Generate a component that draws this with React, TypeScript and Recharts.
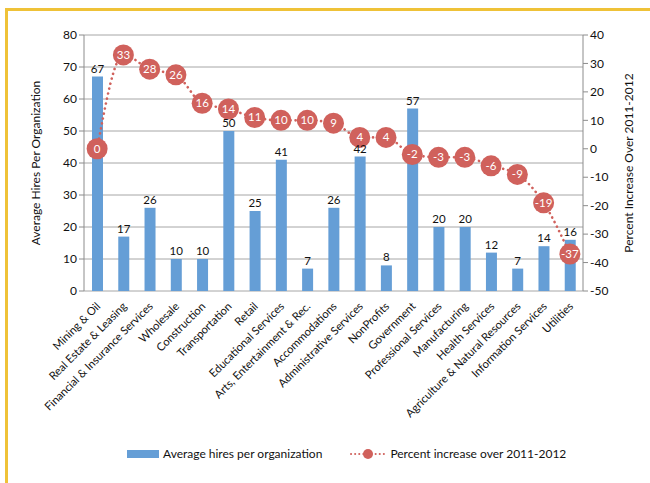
import React from 'react';
import {
    Bar,
    CartesianGrid,
    ComposedChart,
    LabelList,
    Line,
    XAxis,
    YAxis,
} from 'recharts';

const industries = [
    'Mining & Oil',
    'Real Estate & Leasing',
    'Financial & Insurance Services',
    'Wholesale',
    'Construction',
    'Transportation',
    'Retail',
    'Educational Services',
    'Arts, Entertainment & Rec.',
    'Accommodations',
    'Administrative Services',
    'NonProfits',
    'Government',
    'Professional Services',
    'Manufacturing',
    'Health Services',
    'Agriculture & Natural Resources',
    'Information Services',
    'Utilities',
];
const avgHires = [67, 17, 26, 10, 10, 50, 25, 41, 7, 26, 42, 8, 57, 20, 20, 12, 7, 14, 16];
const pctIncrease = [0, 33, 28, 26, 16, 14, 11, 10, 10, 9, 4, 4, -2, -3, -3, -6, -9, -19, -37];
const leftTicks = [0, 10, 20, 30, 40, 50, 60, 70, 80];
const rightTicks = [-50, -40, -30, -20, -10, 0, 10, 20, 30, 40];
const edgeTicks = industries.map((_, i) => i).concat([industries.length]);

const data = industries.map((name, i) => ({ name, hires: avgHires[i], pct: pctIncrease[i] }));

const BLUE = '#659ED6';
const RED = '#D0615C';
const FONT = 'Lato, "Open Sans", sans-serif';

const CategoryTick = (props: any) => {
    const { x, y, payload } = props;
    return (
        <text
            x={x + 4}
            y={y + 8}
            transform={`rotate(-45 ${x + 4} ${y + 8})`}
            textAnchor="end"
            fontSize={11.2}
            fill="#111"
            fontFamily={FONT}
        >
            {payload.value}
        </text>
    );
};

const PctDot = (props: any) => {
    const { cx, cy, value, index } = props;
    return (
        <g key={`dot-${index}`}>
            <circle cx={cx} cy={cy} r={10.5} fill={RED} />
            <text x={cx} y={cy + 4} textAnchor="middle" fontSize={11.5} fill="#fff" fontFamily={FONT}>
                {value}
            </text>
        </g>
    );
};

export default function App() {
    return (
        <div style={{ position: 'absolute', left: 0, top: 0, width: 650, height: 483, background: '#fff', overflow: 'hidden', fontFamily: FONT }}>
            {/* yellow frame, only top and left edges visible */}
            <div style={{ position: 'absolute', left: 5, top: 8, width: 700, height: 520, borderTop: '3px solid #EFC238', borderLeft: '3px solid #EFC238' }} />
            <ComposedChart
                width={650}
                height={483}
                data={data}
                margin={{ top: 35, right: 17, left: 34, bottom: 62 }}
                style={{ position: 'absolute', left: 0, top: 0 }}
            >
                <CartesianGrid vertical={false} stroke="#A6A6A6" yAxisId="left" />
                <XAxis
                    xAxisId="edge"
                    type="number"
                    domain={[0, industries.length]}
                    ticks={edgeTicks}
                    tick={false}
                    height={0}
                    axisLine={{ stroke: '#8C8C8C' }}
                    tickLine={{ stroke: '#8C8C8C' }}
                    tickSize={5}
                    allowDataOverflow
                />
                <XAxis
                    xAxisId="cat"
                    dataKey="name"
                    interval={0}
                    tick={<CategoryTick />}
                    tickLine={false}
                    axisLine={false}
                    height={130}
                />
                <YAxis
                    yAxisId="left"
                    domain={[0, 80]}
                    ticks={leftTicks}
                    width={50}
                    tick={{ fontSize: 12, fill: '#111', fontFamily: FONT }}
                    axisLine={{ stroke: '#8C8C8C' }}
                    tickLine={{ stroke: '#8C8C8C' }}
                    tickSize={5}
                    label={{ value: 'Average Hires Per Organization', angle: -90, position: 'insideLeft', offset: 2, style: { textAnchor: 'middle', fontSize: 12, fill: '#111', fontFamily: FONT } }}
                />
                <YAxis
                    yAxisId="right"
                    orientation="right"
                    domain={[-50, 40]}
                    ticks={rightTicks}
                    width={50}
                    tick={{ fontSize: 12, fill: '#111', fontFamily: FONT }}
                    axisLine={{ stroke: '#8C8C8C' }}
                    tickLine={{ stroke: '#8C8C8C' }}
                    tickSize={5}
                    label={{ value: 'Percent Increase Over 2011-2012', angle: -90, position: 'insideRight', offset: 4, style: { textAnchor: 'middle', fontSize: 12, fill: '#111', fontFamily: FONT } }}
                />
                <Bar dataKey="hires" xAxisId="cat" yAxisId="left" fill={BLUE} barSize={11} isAnimationActive={false}>
                    <LabelList dataKey="hires" position="top" offset={4} fontSize={11.5} fill="#111" fontFamily={FONT} />
                </Bar>
                <Line
                    dataKey="pct"
                    xAxisId="cat"
                    yAxisId="right"
                    type="monotone"
                    stroke={RED}
                    strokeWidth={2.6}
                    strokeDasharray="0.1 5"
                    strokeLinecap="round"
                    dot={<PctDot />}
                    activeDot={false}
                    isAnimationActive={false}
                />
            </ComposedChart>
            {/* legend */}
            <div style={{ position: 'absolute', top: 446, left: 127, display: 'flex', alignItems: 'center', fontSize: 12, color: '#111' }}>
                <svg width={32} height={8} style={{ marginRight: 4 }}>
                    <rect x={0} y={0} width={32} height={8} fill={BLUE} />
                </svg>
                <span>Average hires per organization</span>
                <svg width={36} height={12} style={{ marginLeft: 28, marginRight: 4 }}>
                    <line x1={1} y1={6} x2={35} y2={6} stroke={RED} strokeWidth={2} strokeDasharray="0.1 4" strokeLinecap="round" />
                    <circle cx={18} cy={6} r={5} fill={RED} />
                </svg>
                <span>Percent increase over 2011-2012</span>
            </div>
        </div>
    );
}
